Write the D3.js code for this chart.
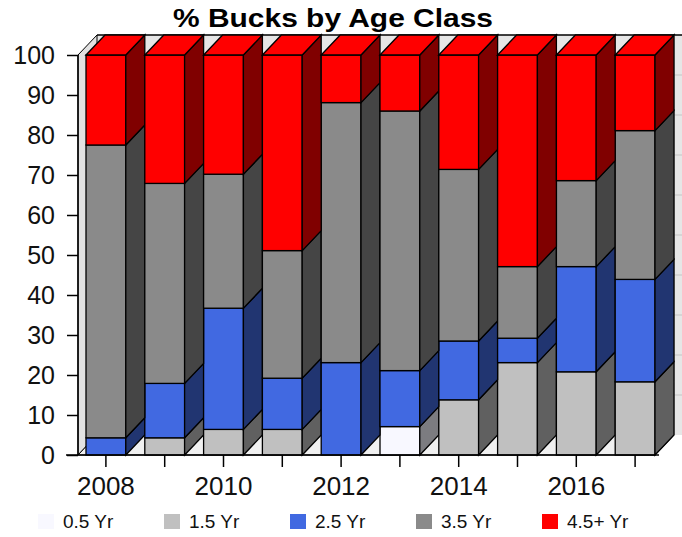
<!DOCTYPE html>
<html>
<head>
<meta charset="utf-8">
<script src="https://cdn.jsdelivr.net/npm/d3@7"></script>
<style>
  body { margin: 0; background: #fff; }
  text { font-family: "Liberation Sans", Arial, sans-serif; }
</style>
</head>
<body>
<svg id="chart" width="682" height="537"></svg>
<script>
// data (% of bucks per age class)
var years = [2008, 2009, 2010, 2011, 2012, 2013, 2014, 2015, 2016, 2017];
var ageClasses = ["0.5 Yr", "1.5 Yr", "2.5 Yr", "3.5 Yr", "4.5+ Yr"];
var yr05 = [0, 0, 0, 0, 0, 7.1, 0, 0, 0, 0];
var yr15 = [0, 4.3, 6.4, 6.4, 0, 0, 13.8, 23.1, 20.8, 18.3];
var yr25 = [4.3, 13.6, 30.3, 12.8, 23.1, 14, 14.7, 6.1, 26.3, 25.6];
var yr35 = [73.2, 50, 33.5, 31.9, 65, 64.9, 42.9, 17.9, 21.5, 37.2];
var yr45 = [22.5, 32.1, 29.8, 48.9, 11.9, 14, 28.6, 52.9, 31.4, 18.9];
var yTicks = [0, 10, 20, 30, 40, 50, 60, 70, 80, 90, 100];
var xLabels = [2008, 2010, 2012, 2014, 2016];

var colors = ["#f8f8ff", "#c0c0c0", "#4169e1", "#8a8a8a", "#ff0000"];

var rows = years.map(function(yr, i) {
  return { year: yr, "0.5 Yr": yr05[i], "1.5 Yr": yr15[i], "2.5 Yr": yr25[i], "3.5 Yr": yr35[i], "4.5+ Yr": yr45[i] };
});

var svg = d3.select("#chart");
var dx = 19, dy = 20;      // 3d depth
var wallX = 78;

var x = d3.scaleBand()
  .domain(years)
  .range([86, 86 + 10 * 58.8])
  .padding(0);
var frontW = x.bandwidth() - dx;

var y = d3.scaleLinear()
  .domain([0, 100])
  .range([455, 55]);

function shade(c) {
  var r = d3.rgb(c);
  return d3.rgb(r.r * 0.5, r.g * 0.5, r.b * 0.5).formatHex();
}

// back wall
svg.append("rect")
  .attr("x", wallX + dx)
  .attr("y", y(100) - dy)
  .attr("width", 700)
  .attr("height", y(0) - y(100))
  .attr("fill", "#e6e6e6");

svg.selectAll(".grid")
  .data(yTicks.slice(1, -1))
  .enter().append("line")
  .attr("x1", wallX + dx)
  .attr("x2", 682)
  .attr("y1", function(d) { return y(d) - dy; })
  .attr("y2", function(d) { return y(d) - dy; })
  .attr("stroke", "#c4c4c4");

svg.append("line")
  .attr("x1", wallX + dx).attr("x2", 682)
  .attr("y1", y(100) - dy).attr("y2", y(100) - dy)
  .attr("stroke", "#000").attr("stroke-width", 1.5);

var rightX = x(years[years.length - 1]) + frontW;
svg.append("line")
  .attr("x1", rightX + dx).attr("x2", rightX + dx)
  .attr("y1", y(100) - dy).attr("y2", y(0) - dy)
  .attr("stroke", "#999");

// left wall
svg.append("polygon")
  .attr("points", [[wallX, y(100)], [wallX + dx, y(100) - dy], [wallX + dx, y(0) - dy], [wallX, y(0)]].join(" "))
  .attr("fill", "#e2e2e2")
  .attr("stroke", "#000");

// floor
svg.append("polygon")
  .attr("points", [[wallX, y(0)], [rightX, y(0)], [rightX + dx, y(0) - dy], [wallX + dx, y(0) - dy]].join(" "))
  .attr("fill", "#f0f0f0")
  .attr("stroke", "#000");

// stacked bars
var series = d3.stack().keys(ageClasses)(rows);

series.forEach(function(s, k) {
  var g = svg.append("g");
  s.forEach(function(d) {
    if (d[1] - d[0] <= 0) return;
    var x0 = x(d.data.year), x1 = x0 + frontW;
    var yb = y(d[0]), yt = y(d[1]);
    g.append("rect")
      .attr("x", x0).attr("y", yt)
      .attr("width", frontW).attr("height", yb - yt)
      .attr("fill", colors[k])
      .attr("stroke", "#000").attr("stroke-width", 1.3);
    g.append("polygon")
      .attr("points", [[x1, yt], [x1 + dx, yt - dy], [x1 + dx, yb - dy], [x1, yb]].join(" "))
      .attr("fill", shade(colors[k]))
      .attr("stroke", "#000").attr("stroke-width", 1.3);
    if (k === series.length - 1) {
      g.append("polygon")
        .attr("points", [[x0, yt], [x0 + dx, yt - dy], [x1 + dx, yt - dy], [x1, yt]].join(" "))
        .attr("fill", colors[k])
        .attr("stroke", "#000").attr("stroke-width", 1.3);
    }
  });
});

// axes
var yAxis = svg.append("g")
  .attr("transform", "translate(" + wallX + ",0)")
  .call(d3.axisLeft(y).tickValues(yTicks).tickSize(11).tickSizeOuter(0).tickPadding(12));
yAxis.select(".domain").remove();
yAxis.selectAll("line").attr("stroke", "#000").attr("stroke-width", 1.5);
yAxis.selectAll("text").style("font-size", "25px").attr("fill", "#111");

var xAxis = svg.append("g")
  .attr("transform", "translate(" + (-dx / 2) + "," + y(0) + ")")
  .call(d3.axisBottom(x).tickSize(12).tickPadding(10)
    .tickFormat(function(d) { return xLabels.indexOf(d) >= 0 ? d : ""; }));
xAxis.select(".domain").remove();
xAxis.selectAll("line").attr("stroke", "#000").attr("stroke-width", 1.5);
xAxis.selectAll("text").style("font-size", "26px").attr("fill", "#111");

svg.append("line")
  .attr("x1", 66).attr("x2", rightX + 4)
  .attr("y1", y(0)).attr("y2", y(0))
  .attr("stroke", "#000").attr("stroke-width", 1.5);
svg.append("line")
  .attr("x1", wallX).attr("x2", wallX)
  .attr("y1", y(100)).attr("y2", y(0))
  .attr("stroke", "#000").attr("stroke-width", 1.5);

// title
svg.append("text")
  .attr("x", 333)
  .attr("y", 27)
  .attr("text-anchor", "middle")
  .attr("textLength", 320)
  .attr("lengthAdjust", "spacingAndGlyphs")
  .style("font-size", "26px")
  .style("font-weight", "bold")
  .text("% Bucks by Age Class");

// legend
var legend = svg.selectAll(".legend")
  .data(ageClasses)
  .enter().append("g")
  .attr("transform", function(d, i) { return "translate(" + (38 + i * 126) + ",514)"; });

legend.append("rect")
  .attr("width", 16).attr("height", 15)
  .attr("fill", function(d, i) { return colors[i]; });

legend.append("text")
  .attr("x", 25)
  .attr("y", 14)
  .style("font-size", "19px")
  .attr("fill", "#111")
  .text(function(d) { return d; });
</script>
</body>
</html>
